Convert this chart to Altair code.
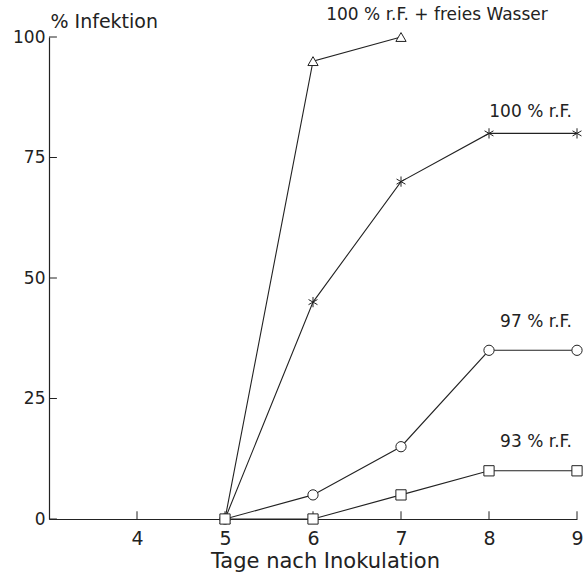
import altair as alt
import pandas as pd

# ---- data ----
series_names = ["100 % r.F. + freies Wasser", "100 % r.F.", "97 % r.F.", "93 % r.F."]
days_wasser = [5, 6, 7]
inf_wasser = [0, 95, 100]
days = [5, 6, 7, 8, 9]
inf_rf100 = [0, 45, 70, 80, 80]
inf_rf97 = [0, 5, 15, 35, 35]
inf_rf93 = [0, 0, 5, 10, 10]
x_ticks = [4, 5, 6, 7, 8, 9]
y_ticks = [0, 25, 50, 75, 100]

rows = []
for d, v in zip(days_wasser, inf_wasser):
    rows.append({"series": series_names[0], "tag": d, "inf": v})
for name, vals in zip(series_names[1:], [inf_rf100, inf_rf97, inf_rf93]):
    for d, v in zip(days, vals):
        rows.append({"series": name, "tag": d, "inf": v})
df = pd.DataFrame(rows)

FONT = "DejaVu Sans"
INK = "#222222"
ASTERISK = "M0,-1L0,1M-0.87,-0.5L0.87,0.5M-0.87,0.5L0.87,-0.5"

xs = alt.Scale(domain=[3, 9], nice=False, zero=False)
ys = alt.Scale(domain=[0, 100], nice=False, zero=True)
shape_scale = alt.Scale(domain=series_names,
                        range=["triangle-up", ASTERISK, "circle", "square"])

x_axis = alt.Axis(values=x_ticks, ticks=False, grid=False, format="d",
                  labelFont=FONT, labelFontSize=19, labelColor=INK,
                  labelPadding=10, labelFlush=False, labelOverlap=False,
                  domainColor=INK, domainWidth=1.2,
                  title="Tage nach Inokulation", titleFont=FONT,
                  titleFontSize=21, titleFontWeight="normal", titleColor=INK,
                  titleX=276, titleY=48, titleAlign="center",
                  titleBaseline="alphabetic")
y_axis = alt.Axis(values=y_ticks, ticks=False, grid=False, format="d",
                  labelFont=FONT, labelFontSize=17, labelColor=INK,
                  labelPadding=4, labelFlush=False, labelOverlap=False,
                  domainColor=INK, domainWidth=1.2,
                  title="% Infektion", titleFont=FONT, titleFontSize=19,
                  titleFontWeight="normal", titleColor=INK, titleAngle=0,
                  titleAlign="left", titleBaseline="alphabetic",
                  titleX=1, titleY=-10)

base = alt.Chart(df)

lines = base.mark_line(color=INK, strokeWidth=1.1).encode(
    x=alt.X("tag:Q", scale=xs, axis=x_axis),
    y=alt.Y("inf:Q", scale=ys, axis=y_axis),
    detail="series:N",
)

points = base.mark_point(filled=True, fill="white", stroke=INK, strokeWidth=1,
                         size=105, opacity=1).encode(
    x=alt.X("tag:Q", scale=xs, axis=x_axis),
    y=alt.Y("inf:Q", scale=ys, axis=y_axis),
    shape=alt.Shape("series:N", scale=shape_scale, legend=None),
)

xt = alt.Chart(pd.DataFrame({"t": x_ticks})).mark_rule(color=INK, strokeWidth=1).encode(
    x=alt.X("t:Q", scale=xs, axis=x_axis),
    y=alt.YDatum(0, axis=y_axis),
    y2=alt.datum(1.6),
)
yt = alt.Chart(pd.DataFrame({"t": y_ticks})).mark_rule(color=INK, strokeWidth=1).encode(
    y=alt.Y("t:Q", scale=ys, axis=y_axis),
    x=alt.XDatum(3, axis=x_axis),
    x2=alt.datum(3.09),
)

# labels anchored to each series' last point
label_style = {
    series_names[0]: dict(dx=36, dy=-17, align="center"),
    series_names[1]: dict(dx=-5, dy=-16, align="right"),
    series_names[2]: dict(dx=-5, dy=-23, align="right"),
    series_names[3]: dict(dx=-5, dy=-24, align="right"),
}
last = df.groupby("series", sort=False).tail(1)
labels = []
for name in series_names:
    st = label_style[name]
    labels.append(
        alt.Chart(last[last["series"] == name]).mark_text(
            font=FONT, fontSize=17, color=INK, baseline="alphabetic",
            align=st["align"], dx=st["dx"], dy=st["dy"]).encode(
            x=alt.X("tag:Q", scale=xs, axis=x_axis),
            y=alt.Y("inf:Q", scale=ys, axis=y_axis),
            text="series:N",
        )
    )

chart = alt.layer(lines, xt, yt, points, *labels).properties(
    width=528, height=482,
    autosize=alt.AutoSizeParams(type="none"),
    padding={"left": 49, "top": 37, "right": 7, "bottom": 66},
    background="white",
).configure_view(stroke=None)

chart.save("out.html", embed_options={"renderer": "svg", "actions": False})
